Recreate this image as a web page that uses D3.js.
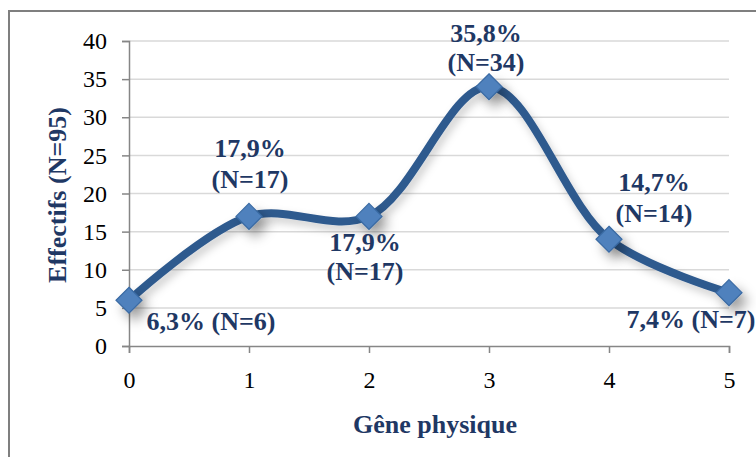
<!DOCTYPE html>
<html><head><meta charset="utf-8">
<script src="https://cdn.jsdelivr.net/npm/d3@7"></script>
<style>html,body{margin:0;padding:0;background:#fff;}svg{display:block;}</style>
</head><body>
<svg id="chart" width="756" height="457"></svg>
<script>
const categories = [0, 1, 2, 3, 4, 5];
const values = [6, 17, 17, 34, 14, 7];
const labelLines = [["6,3% (N=6)"], ["17,9%", "(N=17)"], ["17,9%", "(N=17)"], ["35,8%", "(N=34)"], ["14,7%", "(N=14)"], ["7,4% (N=7)"]];
const yTicks = [0, 5, 10, 15, 20, 25, 30, 35, 40];
const xTitle = "Gêne physique";
const yTitle = "Effectifs (N=95)";

const svg = d3.select("#chart");
const W = 756, H = 457;
const x = d3.scaleLinear().domain([0, 5]).range([129, 729]);
const y = d3.scaleLinear().domain([0, 40]).range([346, 41]);
const navy = "#1F3864";
const FF = '"Liberation Serif"';

const defs = svg.append("defs");
const f1 = defs.append("filter").attr("id", "shLine").attr("x", "-20%").attr("y", "-20%").attr("width", "140%").attr("height", "160%");
f1.append("feDropShadow").attr("dx", 3).attr("dy", 5).attr("stdDeviation", 4).attr("flood-color", "#000").attr("flood-opacity", 0.2);
const f2 = defs.append("filter").attr("id", "shMark").attr("x", "-100%").attr("y", "-100%").attr("width", "300%").attr("height", "300%");
f2.append("feDropShadow").attr("dx", 6).attr("dy", 8).attr("stdDeviation", 6).attr("flood-color", "#000").attr("flood-opacity", 0.35);

svg.append("rect").attr("x", 9).attr("y", 11).attr("width", W + 20).attr("height", H + 20)
  .attr("fill", "#fff").attr("stroke", "#7f7f7f").attr("stroke-width", 2);

svg.append("g").selectAll("line").data(yTicks.filter(d => d > 0)).join("line")
  .attr("x1", x(0)).attr("x2", x(5)).attr("y1", d => y(d)).attr("y2", d => y(d))
  .attr("stroke", "#d9d9d9").attr("stroke-width", 1.5);

const yAxis = svg.append("g").attr("transform", `translate(${x(0)},0)`)
  .call(d3.axisLeft(y).tickValues(yTicks).tickSize(7).tickPadding(15).tickFormat(d3.format("d")));
yAxis.attr("font-family", null);
yAxis.select(".domain").attr("stroke", "#868686").attr("stroke-width", 1.5);
yAxis.selectAll(".tick line").attr("stroke", "#868686").attr("stroke-width", 1.5);
yAxis.selectAll("text").style("font-family", FF).style("font-size", "24px").attr("fill", "#000");

const xAxis = svg.append("g").attr("transform", `translate(0,${y(0)})`)
  .call(d3.axisBottom(x).tickValues(categories).tickSize(7).tickPadding(18).tickFormat(d3.format("d")));
xAxis.attr("font-family", null);
xAxis.select(".domain").attr("stroke", "#868686").attr("stroke-width", 1.5);
xAxis.selectAll(".tick line").attr("stroke", "#868686").attr("stroke-width", 1.5);
xAxis.selectAll("text").style("font-family", FF).style("font-size", "24px").attr("fill", "#000");

const pts = categories.map((c, i) => [x(c), y(values[i])]);
svg.append("path").datum(pts)
  .attr("d", d3.line().curve(d3.curveCatmullRom.alpha(0.5)))
  .attr("fill", "none").attr("stroke", "#2F5A8E").attr("stroke-width", 8)
  .attr("stroke-linecap", "round").attr("filter", "url(#shLine)");

const r = 13;
svg.append("g").selectAll("path").data(pts).join("path")
  .attr("d", d => `M${d[0]},${d[1] - r}L${d[0] + r},${d[1]}L${d[0]},${d[1] + r}L${d[0] - r},${d[1]}Z`)
  .attr("fill", "#4F81BD").attr("stroke", "#3A6AA3").attr("stroke-width", 1.2)
  .attr("filter", "url(#shMark)");

const offsets = [[82, 30, 0], [1, -59, 31], [-4, 35, 29], [-3, -45, 29], [45, -48, 31], [-38, 35, 0]];
labelLines.forEach((lines, i) => {
  const [dx, dy, lh] = offsets[i];
  const t = svg.append("text").style("font-family", FF).style("font-size", "26px")
    .style("font-weight", "bold").attr("fill", navy).attr("text-anchor", "middle");
  lines.forEach((s, k) => {
    t.append("tspan").attr("x", pts[i][0] + dx).attr("y", pts[i][1] + dy + k * lh).text(s);
  });
});

svg.append("text").attr("x", 435).attr("y", 433).attr("text-anchor", "middle")
  .style("font-family", FF).style("font-size", "26px").style("font-weight", "bold").attr("fill", navy).text(xTitle);
svg.append("text").attr("transform", "translate(66,195) rotate(-90)").attr("text-anchor", "middle")
  .style("font-family", FF).style("font-size", "26px").style("font-weight", "bold").attr("fill", navy).text(yTitle);
</script>
</body></html>
